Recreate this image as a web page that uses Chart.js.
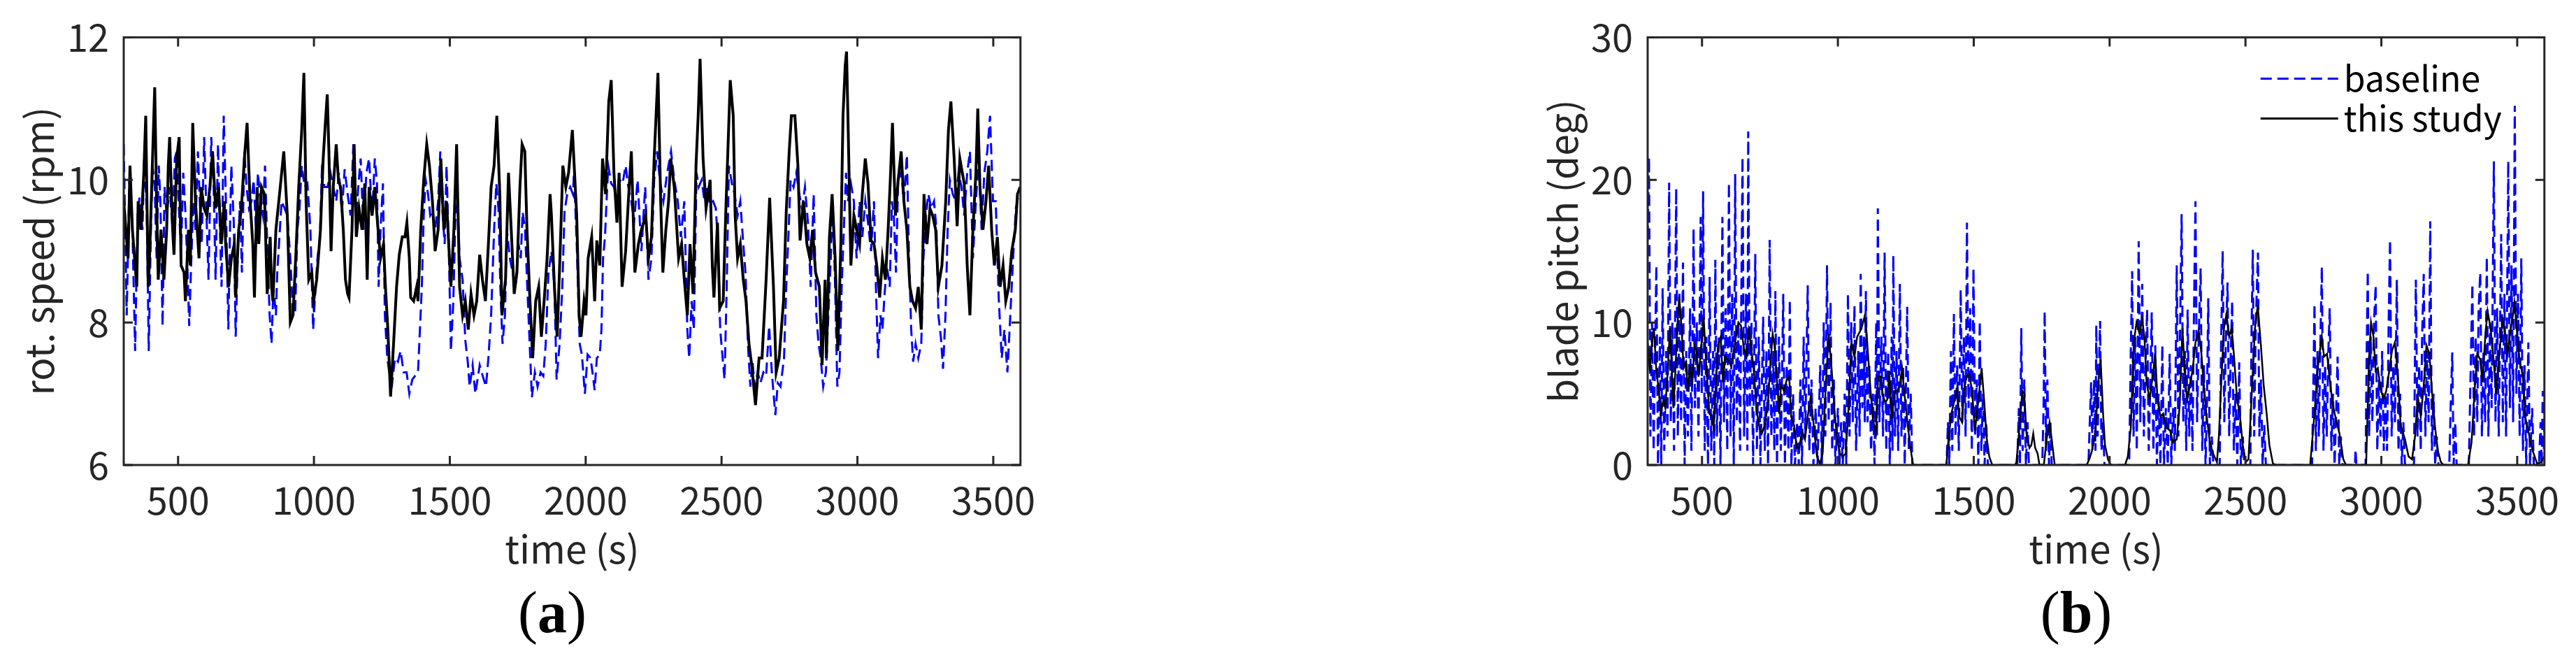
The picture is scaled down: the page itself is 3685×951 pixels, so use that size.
<!DOCTYPE html>
<html lang="en">
<head>
<meta charset="UTF-8">
<title>Rotor speed and blade pitch</title>
<script src="https://cdn.jsdelivr.net/npm/chart.js@4"></script>
<style>
  body { margin: 0; background: #fff; width: 3685px; height: 951px; position: relative; overflow: hidden; }
  canvas { position: absolute; top: 0; }
  #speedChart { left: 0; }
  #pitchChart { left: 2180px; }
  .caption { position: absolute; top: 834px; font: 84px/1 'Liberation Serif', serif; color: #000; transform: translateX(-50%); white-space: nowrap; }
</style>
</head>
<body>
<canvas id="speedChart" width="1500" height="860"></canvas>
<canvas id="pitchChart" width="1500" height="860"></canvas>
<div class="caption" style="left:790px">(<b>a</b>)</div>
<div class="caption" style="left:2970px">(<b>b</b>)</div>

<script>
// time axis (s)
const xTicks = [500, 1000, 1500, 2000, 2500, 3000, 3500];
const speedTicks = [6, 8, 10, 12];
const pitchTicks = [0, 10, 20, 30];
const seriesNames = ['baseline', 'this study'];

// rotor speed (rpm), [time, value]
const speedBaseline = [[300,10.5],[311,8.1],[321,10.0],[332,9.3],[342,7.6],[351,9.5],[358,9.75],[369,9.3],[376,10.4],[385,9.5],[392,7.6],[400,9.3],[406,10.2],[414,9.9],[421,8.9],[429,10.2],[435,9.7],[443,7.95],[450,9.9],[458,9.5],[469,9.9],[480,9.3],[488,10.3],[495,10.4],[503,9.6],[511,9.0],[519,10.1],[527,9.55],[535,8.7],[541,7.95],[548,8.8],[556,9.7],[564,9.3],[573,10.4],[580,9.7],[587,9.1],[596,10.6],[603,9.7],[612,8.6],[622,10.6],[631,9.9],[638,8.6],[647,10.5],[654,9.3],[660,8.5],[668,10.9],[676,9.7],[685,7.9],[691,9.3],[696,10.2],[705,9.4],[712,7.8],[720,9.0],[728,9.7],[735,8.7],[744,10.4],[752,9.9],[761,9.6],[770,9.7],[778,10.0],[786,9.35],[794,10.1],[803,9.7],[812,9.5],[820,10.2],[828,9.1],[837,8.1],[844,7.7],[851,8.5],[860,8.1],[865,8.7],[873,9.2],[881,9.7],[892,9.6],[902,9.5],[913,8.9],[923,8.1],[931,8.15],[939,9.3],[947,9.6],[955,10.2],[966,9.9],[976,9.95],[987,9.3],[997,7.9],[1006,8.5],[1013,8.9],[1022,9.2],[1029,10.1],[1039,9.9],[1050,9.9],[1061,10.1],[1071,9.9],[1082,9.7],[1092,10.1],[1103,9.55],[1113,10.15],[1124,9.8],[1135,9.5],[1145,10.5],[1156,9.5],[1164,9.95],[1172,10.3],[1182,9.3],[1193,10.1],[1203,10.3],[1214,9.5],[1224,10.3],[1232,9.95],[1238,8.5],[1245,9.3],[1254,9.95],[1261,8.1],[1270,7.5],[1277,7.3],[1288,7.15],[1298,7.5],[1309,7.45],[1319,7.6],[1330,7.3],[1341,7.3],[1351,7.0],[1362,7.2],[1372,7.25],[1383,7.3],[1390,7.9],[1397,8.5],[1404,9.5],[1411,10.0],[1420,9.8],[1428,9.5],[1436,9.55],[1446,9.3],[1457,9.7],[1465,10.4],[1473,9.55],[1481,9.1],[1488,10.2],[1497,8.9],[1504,7.6],[1513,8.3],[1520,9.4],[1528,9.7],[1536,8.9],[1547,8.6],[1557,7.75],[1566,7.45],[1573,7.1],[1584,7.4],[1594,7.0],[1610,7.4],[1621,7.25],[1633,7.1],[1642,7.5],[1652,8.1],[1663,9.3],[1671,9.95],[1679,9.6],[1686,8.5],[1694,7.7],[1703,8.1],[1710,9.3],[1721,8.9],[1731,8.7],[1742,8.5],[1753,9.1],[1761,8.9],[1768,9.55],[1777,9.3],[1784,8.6],[1795,7.6],[1802,6.95],[1813,7.3],[1823,7.1],[1834,7.3],[1844,7.25],[1853,7.7],[1863,8.7],[1874,9.0],[1885,8.5],[1893,7.2],[1904,7.7],[1914,8.5],[1922,9.55],[1932,9.8],[1943,9.9],[1953,9.8],[1957,10.1],[1967,9.1],[1978,7.7],[1986,7.55],[1997,7.0],[2007,7.55],[2018,7.5],[2025,7.3],[2033,7.05],[2041,7.5],[2052,7.55],[2058,7.9],[2064,8.9],[2071,9.2],[2078,9.8],[2083,10.2],[2094,9.95],[2104,9.9],[2115,9.7],[2126,10.0],[2136,9.95],[2147,10.2],[2157,9.9],[2168,9.7],[2178,9.4],[2191,10.0],[2205,9.0],[2219,9.9],[2231,8.6],[2242,8.9],[2252,10.0],[2263,10.4],[2273,10.0],[2286,9.7],[2300,10.1],[2314,10.4],[2326,10.0],[2339,9.7],[2350,9.2],[2363,9.7],[2374,7.9],[2381,7.5],[2390,8.3],[2398,7.9],[2408,10.1],[2416,9.9],[2427,10.0],[2437,9.7],[2448,9.9],[2458,9.65],[2469,9.7],[2479,9.6],[2487,9.1],[2495,7.9],[2504,7.5],[2511,7.2],[2519,8.5],[2527,10.2],[2538,9.95],[2548,9.8],[2559,9.5],[2569,9.7],[2580,9.1],[2588,8.7],[2597,7.7],[2606,7.1],[2614,7.45],[2622,7.1],[2633,7.3],[2643,7.15],[2654,7.3],[2664,7.25],[2675,7.95],[2685,7.3],[2698,6.7],[2707,7.15],[2717,7.1],[2730,7.5],[2738,8.5],[2747,9.3],[2754,10.0],[2765,9.9],[2775,10.1],[2786,9.8],[2796,9.6],[2807,9.9],[2818,9.4],[2828,8.5],[2839,9.8],[2849,8.1],[2857,7.7],[2865,7.5],[2874,7.1],[2884,7.3],[2893,8.1],[2902,8.9],[2909,9.7],[2918,8.5],[2926,7.1],[2934,7.3],[2942,8.5],[2950,9.3],[2958,10.1],[2965,9.7],[2976,9.95],[2987,9.7],[2997,8.9],[3008,9.7],[3018,9.2],[3029,9.7],[3039,9.4],[3050,9.0],[3061,9.7],[3068,8.5],[3076,7.5],[3085,8.1],[3092,7.9],[3100,8.4],[3108,8.8],[3119,8.5],[3127,9.7],[3134,9.5],[3142,8.7],[3150,10.0],[3161,10.1],[3171,9.7],[3182,10.35],[3190,8.9],[3198,7.9],[3205,7.45],[3214,7.7],[3224,7.5],[3235,7.7],[3243,8.9],[3252,9.5],[3261,9.8],[3272,9.6],[3282,9.7],[3291,9.3],[3298,8.1],[3307,7.8],[3315,7.35],[3324,8.1],[3332,9.3],[3340,10.0],[3351,9.8],[3362,9.7],[3372,10.1],[3383,9.9],[3393,9.5],[3404,10.1],[3414,10.4],[3425,8.9],[3436,9.7],[3446,10.3],[3457,9.3],[3467,10.1],[3478,10.4],[3488,10.9],[3499,9.7],[3509,9.7],[3520,8.35],[3531,7.5],[3541,7.9],[3552,7.3],[3560,7.9],[3573,8.9],[3583,9.6],[3599,9.9]];

const speedStudy = [[300,9.7],[316,8.9],[323,10.2],[332,9.3],[342,8.8],[348,8.5],[353,9.7],[363,9.3],[374,10.1],[381,10.9],[390,8.5],[395,8.9],[406,10.3],[414,11.3],[421,9.7],[427,8.6],[437,9.3],[448,8.6],[458,9.3],[464,10.2],[469,10.6],[480,9.3],[485,8.95],[495,10.3],[504,10.6],[511,8.8],[522,8.7],[527,8.3],[538,9.3],[545,8.8],[554,10.8],[564,9.7],[577,8.9],[585,9.9],[596,9.6],[606,9.5],[617,9.9],[627,10.4],[638,9.6],[649,9.9],[659,9.1],[670,9.7],[675,9.1],[686,8.5],[696,8.9],[707,9.1],[712,8.35],[723,9.3],[733,9.6],[744,10.3],[754,10.8],[765,9.7],[775,9.1],[781,8.35],[791,9.9],[797,9.1],[807,9.9],[818,9.8],[828,8.4],[839,9.2],[844,8.5],[849,8.3],[860,9.3],[876,9.9],[889,10.4],[902,9.5],[913,8.0],[923,8.1],[934,9.0],[944,9.9],[955,10.7],[963,11.5],[971,9.7],[981,8.6],[992,8.7],[999,8.3],[1010,8.6],[1024,9.3],[1034,10.3],[1042,10.8],[1049,11.2],[1055,10.4],[1063,9.0],[1071,9.9],[1082,10.5],[1090,10.0],[1098,9.9],[1108,9.3],[1116,8.6],[1124,8.4],[1129,8.35],[1140,9.3],[1148,10.5],[1156,9.2],[1166,9.6],[1177,9.3],[1187,9.95],[1196,8.6],[1203,9.9],[1214,9.5],[1224,9.9],[1235,9.35],[1245,8.9],[1256,9.1],[1263,8.5],[1272,7.9],[1282,6.96],[1293,7.7],[1304,8.5],[1314,8.95],[1325,9.2],[1335,9.2],[1342,9.4],[1351,8.9],[1356,8.35],[1367,8.3],[1378,8.5],[1383,8.3],[1393,9.3],[1404,10.0],[1415,10.5],[1425,10.2],[1436,9.7],[1446,9.0],[1457,9.3],[1467,10.3],[1478,9.3],[1488,9.7],[1504,8.5],[1515,9.3],[1525,10.5],[1536,8.5],[1547,8.1],[1557,8.3],[1568,7.9],[1578,8.4],[1589,8.1],[1599,8.3],[1610,8.95],[1620,8.6],[1631,8.3],[1642,9.1],[1652,9.9],[1663,10.2],[1673,10.9],[1684,9.8],[1692,8.1],[1705,8.6],[1716,10.1],[1726,9.3],[1737,8.4],[1747,8.7],[1758,9.9],[1766,10.5],[1776,10.4],[1784,9.3],[1795,8.3],[1805,7.5],[1816,8.3],[1827,8.5],[1837,7.8],[1848,8.35],[1858,8.9],[1869,9.8],[1874,9.5],[1885,8.5],[1895,7.8],[1906,9.0],[1916,10.2],[1927,9.9],[1937,10.1],[1951,10.7],[1967,9.5],[1976,8.1],[1983,7.8],[1994,8.3],[2001,8.1],[2009,8.9],[2022,9.2],[2033,8.3],[2041,9.15],[2052,8.8],[2062,10.3],[2073,9.8],[2085,11.1],[2094,11.4],[2104,10.1],[2115,9.4],[2123,10.1],[2134,8.5],[2147,9.0],[2157,9.7],[2168,10.4],[2181,8.7],[2194,9.1],[2205,9.3],[2221,9.5],[2231,8.9],[2242,9.2],[2252,10.3],[2266,11.5],[2276,9.7],[2284,8.7],[2295,9.3],[2305,9.7],[2313,10.3],[2326,9.9],[2342,8.9],[2353,9.1],[2363,8.6],[2374,8.1],[2384,9.1],[2395,8.4],[2406,10.2],[2414,10.9],[2421,11.7],[2432,10.3],[2443,9.6],[2458,10.0],[2466,8.8],[2472,8.35],[2485,9.4],[2493,8.2],[2506,8.3],[2516,9.6],[2525,10.6],[2532,11.4],[2543,10.9],[2550,9.5],[2559,8.9],[2569,9.1],[2580,8.6],[2590,8.3],[2601,7.7],[2611,7.4],[2625,6.84],[2638,7.5],[2649,7.5],[2664,8.6],[2677,9.75],[2691,8.5],[2701,7.3],[2712,7.5],[2728,8.3],[2738,9.55],[2749,10.4],[2757,10.9],[2770,10.9],[2781,10.2],[2789,9.15],[2802,9.7],[2814,9.1],[2825,8.9],[2835,9.3],[2846,8.7],[2860,8.5],[2870,7.4],[2881,8.6],[2886,7.5],[2897,9.2],[2907,9.8],[2918,8.9],[2928,7.6],[2939,9.1],[2947,10.9],[2955,11.6],[2960,11.8],[2965,10.9],[2976,8.8],[2987,9.5],[2997,9.3],[3008,9.1],[3018,9.8],[3029,10.3],[3039,9.95],[3050,9.15],[3061,9.1],[3071,8.8],[3082,8.35],[3092,8.9],[3103,8.6],[3113,9.3],[3121,10.0],[3129,10.8],[3140,9.5],[3150,10.0],[3161,10.4],[3171,9.7],[3182,9.3],[3193,8.5],[3203,8.3],[3214,8.2],[3224,8.5],[3235,7.9],[3245,9.8],[3256,9.1],[3267,9.6],[3277,9.5],[3288,9.3],[3298,8.5],[3311,8.8],[3325,9.7],[3335,10.7],[3344,11.1],[3356,10.3],[3367,9.35],[3377,10.3],[3393,9.95],[3404,8.8],[3414,8.1],[3425,9.3],[3436,10.1],[3443,11.0],[3451,9.9],[3462,9.3],[3473,9.7],[3483,10.2],[3494,9.3],[3504,8.8],[3515,9.2],[3525,8.5],[3536,8.8],[3546,8.3],[3557,8.5],[3568,9.0],[3581,9.3],[3589,9.8],[3599,9.9]];

// blade pitch (deg), [time, value]
const pitchBaseline = [[300,16],[305,21.6],[310,2],[316,10],[322,1],[332,14],[338,0],[345,9],[350,0],[355,12.4],[361,1],[368,8],[373,2],[379,19.8],[385,3],[391,10],[397,1],[405,19.4],[411,2],[417,12],[423,3],[430,14.2],[436,0],[442,8],[448,2],[456,11],[461,1],[469,16.6],[474,4],[481,10],[487,2],[495,17.4],[499,5],[504,19.2],[510,1],[516,9],[522,0],[528,13.2],[534,1],[541,8],[545,0],[549,14.4],[555,2],[562,9],[568,0],[575,17.4],[581,3],[587,11],[593,1],[599,19.8],[605,2],[611,12],[617,0],[622,20.4],[628,3],[634,10],[640,1],[649,21.6],[655,2],[662,12],[667,1],[670,23.4],[676,4],[682,10],[688,0],[696,14.8],[702,1],[709,9],[715,0],[725,10.4],[731,1],[737,8],[743,0],[749,15.8],[755,2],[762,8],[766,1],[770,12.2],[776,0],[783,9],[790,1],[799,12],[805,0],[812,7],[818,1],[823,11.6],[829,0],[835,5],[842,0],[850,3],[856,0],[862,6],[868,0],[874,9],[880,2],[889,12.6],[895,1],[903,6],[910,0],[918,4],[925,0],[935,7],[941,0],[948,10],[954,2],[960,14],[966,3],[973,11.4],[979,1],[985,6],[991,0],[1000,4],[1006,0],[1012,3],[1018,0],[1025,5],[1031,0],[1037,12],[1043,2],[1049,10],[1055,3],[1061,11.2],[1067,1],[1075,8],[1080,2],[1084,13.4],[1090,4],[1096,9],[1099,3],[1103,12.2],[1109,3],[1116,7],[1122,1],[1129,5],[1135,0],[1141,10],[1144,2],[1147,18],[1153,3],[1160,9],[1166,2],[1172,14.9],[1178,1],[1185,8],[1191,0],[1198,9],[1201,1],[1204,14.7],[1210,2],[1216,8],[1222,1],[1228,12.7],[1234,2],[1240,7],[1246,0],[1255,11.1],[1261,1],[1268,5],[1274,0],[1400,0],[1405,3],[1410,0],[1416,8],[1421,1],[1427,10.6],[1433,2],[1439,7],[1445,1],[1452,12.3],[1458,3],[1464,9],[1470,2],[1475,17],[1481,4],[1487,11],[1493,1],[1499,13.8],[1505,2],[1511,6],[1517,0],[1522,10.1],[1528,1],[1534,5],[1540,0],[1546,3],[1552,0],[1660,0],[1666,4],[1670,0],[1675,9.6],[1680,1],[1686,6],[1692,0],[1698,3],[1703,0],[1752,0],[1757,4],[1761,10.8],[1766,1],[1771,6],[1777,0],[1782,3],[1787,0],[1922,0],[1927,3],[1932,5.8],[1937,1],[1943,6],[1948,1],[1951,9.8],[1956,2],[1961,7],[1965,10.1],[1970,1],[1976,3],[1981,0],[2072,0],[2078,8],[2083,13.6],[2088,2],[2094,9],[2100,1],[2107,15.7],[2113,3],[2120,12.7],[2126,2],[2132,7],[2138,10.9],[2144,1],[2150,6],[2155,10.7],[2161,1],[2168,8.4],[2174,0],[2180,5],[2187,0],[2194,8.4],[2200,0],[2207,4],[2214,0],[2221,7.8],[2227,0],[2234,4],[2240,1],[2247,14],[2253,2],[2259,9],[2265,17.6],[2271,3],[2277,8],[2282,1],[2287,10.9],[2293,2],[2299,7],[2305,1],[2310,10],[2316,18.5],[2322,3],[2328,9],[2335,13.8],[2341,1],[2347,7],[2353,0],[2358,4],[2363,11.7],[2369,0],[2376,2],[2382,0],[2405,0],[2410,8],[2416,15],[2422,3],[2428,9],[2434,12.8],[2440,2],[2446,8],[2451,11.5],[2457,1],[2463,5],[2470,0],[2477,7.2],[2483,0],[2490,2],[2496,0],[2518,0],[2522,9],[2527,15.1],[2532,2],[2538,10],[2546,14.9],[2551,2],[2557,6],[2563,0],[2569,2.8],[2575,0],[2745,0],[2750,6],[2754,11.3],[2759,1],[2765,8],[2770,2],[2776,9],[2781,13.9],[2787,1],[2793,7],[2799,2],[2805,8],[2810,11],[2816,1],[2822,5],[2828,0],[2834,4],[2839,7.6],[2845,0],[2851,2],[2857,0],[2903,0],[2905,1.1],[2908,0],[2942,0],[2946,8],[2950,13.6],[2955,2],[2961,9],[2967,3],[2973,10],[2979,12.6],[2985,1],[2991,6],[2997,2],[3003,8],[3009,1],[3015,5],[3021,1],[3027,10],[3032,15.8],[3038,2],[3044,7],[3050,3],[3057,13],[3063,1],[3069,5],[3075,0],[3081,3],[3087,0],[3120,0],[3124,8],[3127,13],[3133,2],[3139,7],[3145,1],[3150,9],[3156,13.4],[3162,2],[3168,8],[3174,3],[3180,17.1],[3186,1],[3192,5],[3198,0],[3204,2],[3210,0],[3250,0],[3255,4],[3261,7.9],[3266,0],[3272,3],[3277,0],[3322,0],[3328,6],[3335,12.7],[3341,2],[3347,9],[3353,3],[3358,11],[3364,13.5],[3370,2],[3376,8],[3382,3],[3388,14.6],[3394,2],[3400,10],[3406,4],[3414,21.3],[3420,3],[3426,11],[3432,2],[3441,16.2],[3447,3],[3453,12],[3459,2],[3467,21.3],[3473,4],[3479,14],[3485,3],[3491,25.2],[3497,5],[3503,12],[3509,2],[3515,14.5],[3521,1],[3527,7],[3533,0],[3541,8.6],[3547,0],[3555,4],[3561,0],[3580,0],[3586,3],[3590,0],[3594,5.2],[3598,1],[3600,3]];

const pitchStudy = [[300,8.6],[308,6.6],[316,8.6],[323,9.6],[332,6.6],[340,5.4],[348,3.6],[358,4.6],[365,4.0],[374,6.6],[382,9.6],[390,6.2],[395,4.0],[402,6.6],[409,9.6],[416,11.8],[425,9.6],[432,6.8],[441,7.2],[448,5.2],[456,7.0],[464,5.6],[472,8.4],[480,8.0],[487,6.2],[495,7.8],[506,10.4],[517,6.6],[527,3.6],[536,3.4],[543,2.6],[551,5.6],[559,8.4],[569,9.0],[577,5.8],[585,7.6],[596,7.4],[606,7.0],[614,7.6],[625,9.0],[634,10.0],[643,9.8],[654,8.2],[664,7.6],[672,9.4],[680,8.4],[691,6.6],[701,3.8],[712,2.6],[720,2.2],[731,2.8],[742,4.2],[750,6.6],[760,9.2],[768,8.2],[775,6.2],[784,3.6],[791,5.6],[802,5.2],[812,6.0],[821,6.2],[828,3.4],[839,2.8],[849,1.2],[858,1.2],[868,2.4],[879,1.8],[889,3.4],[900,4.8],[911,2.8],[923,0.6],[934,0.1],[944,0.8],[953,4.6],[966,9.2],[976,7.0],[987,4.0],[997,1.8],[1008,0.8],[1018,0.6],[1029,0.8],[1039,4.0],[1050,8.6],[1061,7.6],[1071,9.0],[1082,9.4],[1090,9.8],[1098,10.4],[1105,9.4],[1113,7.2],[1122,4.8],[1129,3.2],[1140,2.2],[1148,6.2],[1158,6.2],[1166,4.8],[1175,4.4],[1182,4.6],[1189,6.6],[1198,3.2],[1209,5.2],[1219,5.2],[1228,5.6],[1236,6.8],[1245,5.0],[1256,3.0],[1267,1.2],[1277,0],[1399,0],[1409,2.2],[1420,3.8],[1430,4.6],[1439,5.4],[1446,3.4],[1457,3.0],[1464,5.2],[1473,6.2],[1483,6.4],[1494,5.2],[1504,2.4],[1515,4.2],[1529,6.8],[1538,4.6],[1547,2.0],[1557,0.6],[1568,0],[1652,0],[1657,0.2],[1668,2.6],[1679,5.2],[1686,5.0],[1694,2.2],[1705,1.2],[1712,1.4],[1719,2.2],[1726,1.2],[1735,0.8],[1742,0],[1758,0],[1768,1.8],[1779,3.0],[1787,1.8],[1798,0],[1916,0],[1927,0.5],[1935,1.0],[1946,2.0],[1953,4.0],[1957,5.6],[1967,7.4],[1976,3.6],[1983,1.4],[1994,0.4],[2004,0],[2057,0],[2067,0.6],[2078,2.6],[2089,8.6],[2099,10.0],[2110,9.2],[2120,10.2],[2128,9.0],[2136,5.8],[2147,4.6],[2157,6.0],[2168,7.8],[2176,4.6],[2187,3.4],[2197,3.6],[2210,2.6],[2223,2.4],[2233,1.6],[2247,1.8],[2258,4.2],[2268,9.6],[2279,5.8],[2286,4.6],[2295,5.6],[2305,6.6],[2316,8.6],[2328,9.4],[2337,8.0],[2345,6.0],[2356,3.6],[2369,1.6],[2381,0.8],[2395,0.2],[2402,2.0],[2413,6.6],[2421,9.6],[2430,10.6],[2440,9.0],[2449,9.6],[2458,7.6],[2469,4.6],[2479,3.6],[2490,1.4],[2501,0.2],[2511,0.4],[2522,4.6],[2535,9.6],[2545,11.2],[2556,8.6],[2567,5.6],[2578,3.6],[2588,1.4],[2601,0.1],[2612,0],[2738,0],[2754,3.6],[2765,6.6],[2775,8.2],[2781,9.0],[2789,7.6],[2800,7.8],[2810,6.0],[2821,4.2],[2833,3.2],[2846,2.2],[2860,0.4],[2870,0],[2944,0],[2955,7.6],[2962,10.0],[2971,9.0],[2979,6.6],[2987,6.8],[2997,5.4],[3008,4.6],[3018,5.2],[3029,6.6],[3039,8.0],[3050,8.6],[3061,6.2],[3071,2.8],[3087,1.8],[3100,0.6],[3113,0.4],[3124,2.0],[3134,4.8],[3145,3.4],[3156,5.6],[3166,8.4],[3177,7.8],[3187,5.0],[3198,2.6],[3208,1.0],[3219,0.2],[3229,0],[3319,0],[3332,1.6],[3343,5.2],[3353,7.8],[3364,7.4],[3372,5.8],[3383,9.2],[3391,10.8],[3402,9.6],[3412,7.6],[3423,5.0],[3436,8.2],[3446,10.2],[3457,9.0],[3464,7.8],[3475,9.4],[3485,10.6],[3490,11.4],[3499,9.4],[3509,7.2],[3520,6.4],[3531,3.2],[3543,2.2],[3557,1.0],[3573,0.1],[3589,0.2],[3599,0.6]];

const axisColor = '#262626';
const fontFamily = "'Noto Sans CJK JP', 'Noto Sans', sans-serif";

// box round the plot with inward ticks on all four sides, plus the in-plot legend
const matlabFrame = {
  id: 'matlabFrame',
  afterDatasetsDraw(chart, args, opts) {
    const { ctx, chartArea: a, scales: { x, y } } = chart;
    ctx.save();
    ctx.strokeStyle = axisColor;
    ctx.lineWidth = 3;
    ctx.setLineDash([]);
    ctx.beginPath();
    x.ticks.forEach(t => {
      const px = x.getPixelForValue(t.value);
      ctx.moveTo(px, a.bottom); ctx.lineTo(px, a.bottom - 13);
      ctx.moveTo(px, a.top); ctx.lineTo(px, a.top + 13);
    });
    y.ticks.forEach(t => {
      const py = y.getPixelForValue(t.value);
      ctx.moveTo(a.left, py); ctx.lineTo(a.left + 13, py);
      ctx.moveTo(a.right, py); ctx.lineTo(a.right - 13, py);
    });
    ctx.stroke();
    ctx.strokeRect(a.left, a.top, a.right - a.left, a.bottom - a.top);

    if (opts.legend) {
      const x0 = a.right - 406, x1 = a.right - 295;
      ctx.font = '50px ' + fontFamily;
      ctx.textBaseline = 'middle';
      ctx.fillStyle = '#000';
      chart.data.datasets.forEach((ds, i) => {
        const ly = a.top + 59 + i * 57;
        ctx.strokeStyle = ds.borderColor;
        ctx.lineWidth = 3;
        ctx.setLineDash(ds.borderDash || []);
        ctx.beginPath(); ctx.moveTo(x0, ly); ctx.lineTo(x1, ly); ctx.stroke();
        ctx.fillText(ds.label, x1 + 8, ly);
      });
    }
    ctx.restore();
  }
};

function toPoints(list) {
  return list.map(([t, v]) => ({ x: t, y: v }));
}

function makeChart(id, baseline, study, yMin, yMax, yTicks, yTitle, studyWidth, legend) {
  return new Chart(document.getElementById(id), {
    type: 'line',
    data: {
      datasets: [
        { label: seriesNames[0], data: toPoints(baseline), borderColor: '#0000ff', borderWidth: 3, borderDash: [16, 8], pointRadius: 0, tension: 0, order: 1 },
        { label: seriesNames[1], data: toPoints(study), borderColor: '#000000', borderWidth: studyWidth, pointRadius: 0, tension: 0, order: 0 }
      ]
    },
    options: {
      responsive: false,
      animation: false,
      devicePixelRatio: 1,
      layout: { padding: { top: 51, right: 38, left: 0, bottom: 0 } },
      plugins: { legend: { display: false }, tooltip: { enabled: false }, matlabFrame: { legend } },
      scales: {
        x: {
          type: 'linear', min: 300, max: 3600,
          afterBuildTicks: s => { s.ticks = xTicks.map(v => ({ value: v })); },
          afterFit: s => { s.height = 195; },
          grid: { display: false, drawTicks: false },
          border: { display: false },
          ticks: { padding: 18, color: axisColor, maxRotation: 0, autoSkip: false, font: { family: fontFamily, size: 54 }, callback: v => String(v) },
          title: { display: true, text: 'time (s)', color: axisColor, font: { family: fontFamily, size: 55 }, padding: { top: 42, bottom: 42 } }
        },
        y: {
          type: 'linear', min: yMin, max: yMax,
          afterBuildTicks: s => { s.ticks = yTicks.map(v => ({ value: v })); },
          afterFit: s => { s.width = 177; },
          grid: { display: false, drawTicks: false },
          border: { display: false },
          ticks: { padding: 21, color: axisColor, font: { family: fontFamily, size: 54 }, callback: v => String(v) },
          title: { display: true, text: yTitle, color: axisColor, font: { family: fontFamily, size: 55 }, padding: { top: 23, bottom: 23 } }
        }
      }
    },
    plugins: [matlabFrame]
  });
}

makeChart('speedChart', speedBaseline, speedStudy, 6, 12, speedTicks, 'rot. speed (rpm)', 4, false);
makeChart('pitchChart', pitchBaseline, pitchStudy, 0, 30, pitchTicks, 'blade pitch (deg)', 2.5, true);
</script>
</body>
</html>
